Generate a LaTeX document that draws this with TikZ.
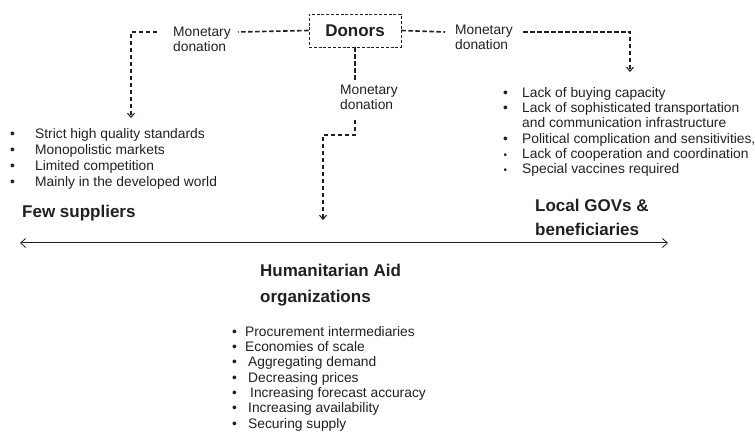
\documentclass[tikz,border=0pt]{standalone}
\usepackage{fontspec}
\setmainfont{Liberation Sans}
\usetikzlibrary{arrows.meta}
\definecolor{ink}{HTML}{231F20}
\newcommand\blA{\makebox[25pt][l]{\textbullet}}
\newcommand\blB{\makebox[19pt][l]{\textbullet}}
\newcommand\blC{\makebox[19pt][l]{\hspace{0.5pt}\fontsize{10}{10}\selectfont\textbullet}}
\newcommand\blD{\makebox[13pt][l]{\textbullet}}
\begin{document}
\begin{tikzpicture}[x=1pt,y=-1pt, every node/.style={text=ink},
  flow/.style={draw=ink, line width=1.6pt, dash pattern=on 4.5pt off 2.5pt},
  tip/.style={-{Straight Barb[length=4pt,width=7pt,line width=1.1pt]}},
  lbl/.style={font=\fontsize{13.8}{15}\selectfont, align=left, inner sep=0pt, anchor=north west},
  head/.style={font=\fontsize{17}{24}\selectfont\bfseries, align=left, inner sep=0pt, anchor=north west},
  lst/.style={font=\fontsize{13.8}{16}\selectfont, align=left, inner sep=0pt, anchor=north west},
  dbox/.style={draw=ink, line width=0.9pt, dash pattern=on 3pt off 1.8pt, minimum width=92pt, minimum height=33pt, inner sep=0pt, font=\fontsize{17}{20}\selectfont\bfseries},
]
\useasboundingbox (0,0) rectangle (755,438);

\node[dbox] (donors) at (355,30.5) {Donors};

% labels
\node[lbl] (lm) at (173,27) {Monetary\\donation};
\node[lbl] (rm) at (455,25) {Monetary\\donation};
\node[lbl] (cm) at (340,85) {Monetary\\donation};

% lists
\node[lst] (suppliers) at (10,128) {\blA Strict high quality standards\\
\blA Monopolistic markets\\
\blA Limited competition\\
\blA Mainly in the developed world};

\node[lst, font=\fontsize{13.8}{15.3}\selectfont] (locals) at (503,87) {\blB Lack of buying capacity\\
\blB Lack of sophisticated transportation\\
\hspace*{19pt}and communication infrastructure\\
\blB Political complication and sensitivities,\\
\blC Lack of cooperation and coordination\\
\blC Special vaccines required};

\node[lst, font=\fontsize{13.8}{15.3}\selectfont] (aid) at (232,326) {\blD Procurement intermediaries\\
\blD Economies of scale\\
\blD\hspace{3pt}Aggregating demand\\
\blD\hspace{3pt}Decreasing prices\\
\blD\hspace{5pt}Increasing forecast accuracy\\
\blD\hspace{3pt}Increasing availability\\
\blD\hspace{3pt}Securing supply};

% headings
\node[head, anchor=base west] (few) at (22,218) {Few suppliers};
\node[head] (gov) at (535,199) {Local GOVs \&\\beneficiaries};
\node[head, font=\fontsize{17}{26}\selectfont\bfseries] (hum) at (260,264) {Humanitarian Aid\\organizations};

% connectors
\coordinate (la) at (238,32);
\coordinate (lb) at (157,32);
\coordinate (lc) at (131,32);
\coordinate (ld) at (131,118);
\draw[flow] (donors.west) -- (la);
\draw[flow,tip] (lb) -- (lc) -- (ld);

\coordinate (ra) at (445,32);
\coordinate (rb) at (523,32);
\coordinate (rc) at (630,32);
\coordinate (rd) at (630,72);
\draw[flow] (donors.east) -- (ra);
\draw[flow,tip] (rb) -- (rc) -- (rd);

\coordinate (ca) at (355,82);
\coordinate (cb) at (355,120);
\coordinate (cc) at (355,135);
\coordinate (cd) at (323,135);
\coordinate (ce) at (323,220);
\draw[flow] (donors.south -| ca) -- (ca);
\draw[flow,tip] (cb) -- (cc) -- (cd) -- (ce);

% axis
\coordinate (axl) at (20,243);
\coordinate (axr) at (668,243);
\draw[draw=ink, line width=1pt, {Straight Barb[length=5pt,width=9pt,line width=0.8pt]}-{Straight Barb[length=5pt,width=9pt,line width=0.8pt]}] (axl) -- (axr);
\end{tikzpicture}
\end{document}
